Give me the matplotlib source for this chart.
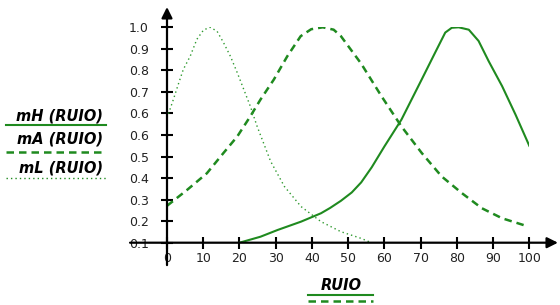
import matplotlib
matplotlib.use("Agg")
import matplotlib.pyplot as plt
from matplotlib.lines import Line2D

# values
x_mL = [0, 1.75, 3.1, 4.5, 6.4, 8.25, 10.1, 11.9, 13.8, 15.6, 17.5, 19.4, 21.2, 23, 24.9,
        28.6, 32.4, 37, 42.5, 48, 53.6, 56.4]
y_mL = [0.621, 0.698, 0.761, 0.824, 0.879, 0.95, 0.989, 1.0, 0.984, 0.936, 0.879, 0.81, 0.74,
        0.67, 0.585, 0.44, 0.335, 0.251, 0.188, 0.146, 0.118, 0.1]

x_mA = [0, 5.5, 11, 15.6, 19.4, 23, 25.8, 29.5, 33.2, 36.9, 39.8, 43, 46, 48, 53.6, 59.2,
        64.7, 70.3, 75.8, 81.4, 86.9, 92.5, 99.2]
y_mA = [0.254, 0.32, 0.39, 0.475, 0.544, 0.628, 0.698, 0.782, 0.879, 0.963, 0.992, 1.0, 0.99,
        0.963, 0.848, 0.712, 0.586, 0.475, 0.377, 0.307, 0.244, 0.202, 0.17]

x_mH = [20, 25.8, 30.5, 37, 42.5, 45, 48, 51, 53.6, 56.5, 60, 64.7, 70.3, 74, 76.8, 78.6,
        80.5, 83.3, 86, 88.8, 92.5, 96.2, 100]
y_mH = [0.1, 0.125, 0.153, 0.188, 0.223, 0.245, 0.275, 0.31, 0.352, 0.415, 0.502, 0.614,
        0.782, 0.894, 0.978, 0.998, 1.0, 0.99, 0.943, 0.858, 0.754, 0.635, 0.505]

x_ticks = [0, 10, 20, 30, 40, 50, 60, 70, 80, 90, 100]
y_ticks = [0.1, 0.19, 0.28, 0.37, 0.46, 0.55, 0.64, 0.73, 0.82, 0.91, 1.0]
y_labels = ["0.1", "0.2", "0.3", "0.4", "0.5", "0.6", "0.6", "0.7", "0.8", "0.9", "1.0"]

green = "#1f8a1f"
W, H = 560, 305

fig = plt.figure(figsize=(5.6, 3.05), dpi=100)
ax = fig.add_axes([167 / W, 1 - 242.7 / H, 362.3 / W, 215.4 / H])
ax.patch.set_alpha(0)

ax.plot(x_mH, y_mH, color=green, lw=1.5, solid_joinstyle="round")
ax.plot(x_mA, y_mA, color=green, lw=1.8, dashes=(3, 2))
ax.plot(x_mL, y_mL, color="#2f9a2f", lw=1.0, dashes=(1, 2.2))

ax.set_xlim(0, 100)
ax.set_ylim(0.1, 1.0)
for s in ax.spines.values():
    s.set_visible(False)

ax.set_xticks(x_ticks)
ax.set_xticklabels([str(t) for t in x_ticks])
ax.set_yticks(y_ticks)
ax.set_yticklabels(y_labels)
ax.tick_params(direction="inout", length=8, width=1.5, labelsize=9, colors="black")
ax.tick_params(axis="x", pad=3)
ax.tick_params(axis="y", pad=9)
for lab in ax.get_yticklabels() + ax.get_xticklabels():
    lab.set_color("#222222")

# axis lines with arrows
ax.annotate("", xy=(1.079, 0), xytext=(-0.102, 0), xycoords="axes fraction",
            arrowprops=dict(arrowstyle="-|>", color="black", lw=1.6, mutation_scale=16,
                            shrinkA=0, shrinkB=0))
ax.annotate("", xy=(0, 1.094), xytext=(0, -0.104), xycoords="axes fraction",
            arrowprops=dict(arrowstyle="-|>", color="black", lw=1.6, mutation_scale=16,
                            shrinkA=0, shrinkB=0))

font = dict(fontsize=10.5, fontweight="bold", fontstyle="italic", color="black")

# left legend
legend = [("mH (RUIO)", 115.7, 125, "-", 1.5),
          ("mA (RUIO)", 139.5, 151.5, (0, (3, 2)), 1.8),
          ("mL (RUIO)", 167.5, 178, (0, (1, 2.2)), 1.0)]
for txt, ty, ly, ls, lw in legend:
    fig.text(103 / W, 1 - ty / H, txt, ha="right", va="center", **font)
    fig.add_artist(Line2D([6 / W, 106 / W], [1 - ly / H, 1 - ly / H], color=green,
                          lw=lw, linestyle=ls, transform=fig.transFigure))

# x label
fig.text(341 / W, 1 - 285.5 / H, "RUIO", ha="center", va="center", **font)
fig.add_artist(Line2D([308 / W, 373 / W], [1 - 295 / H] * 2, color=green, lw=1.5,
                      transform=fig.transFigure))
fig.add_artist(Line2D([308 / W, 373 / W], [1 - 300.5 / H] * 2, color=green, lw=1.8,
                      linestyle=(0, (3, 2)), transform=fig.transFigure))

fig.savefig("out.png", dpi=100)
